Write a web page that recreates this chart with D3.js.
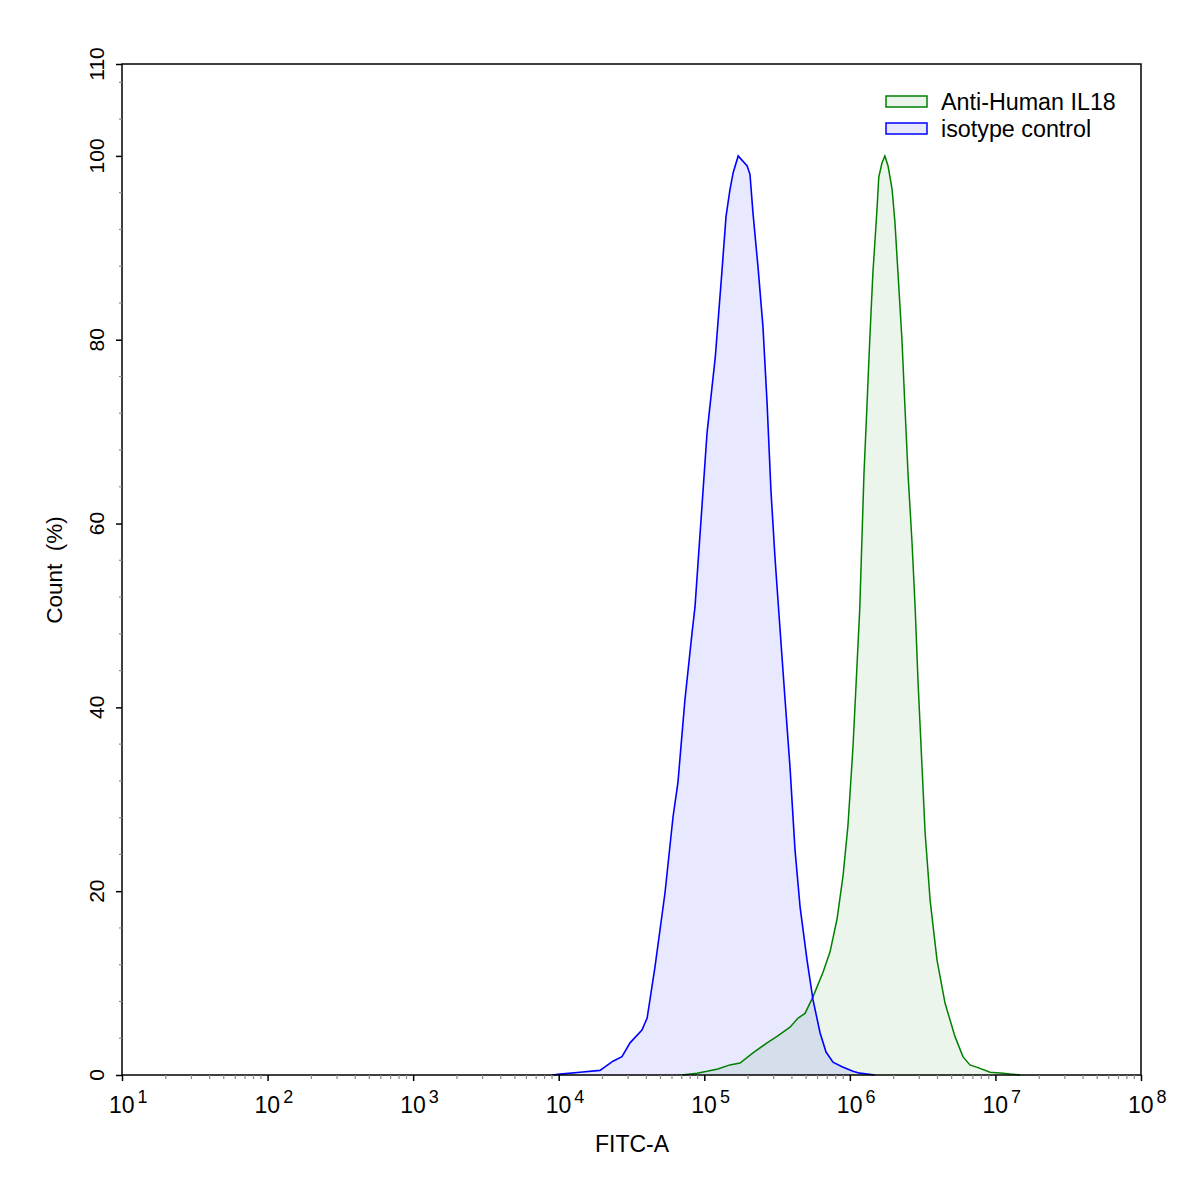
<!DOCTYPE html>
<html>
<head>
<meta charset="utf-8">
<script src="https://cdn.jsdelivr.net/npm/d3@7/dist/d3.min.js"></script>
<style>
  html, body { margin: 0; padding: 0; background: #fff; }
  svg { display: block; font-family: "Liberation Sans", Arial, sans-serif; }
</style>
</head>
<body>
<svg id="chart" width="1197" height="1193"></svg>
<script>
// ---- Data ----
const seriesNames = ["Anti-Human IL18", "isotype control"];

// isotype control (blue): FITC-A value, Count %
const isoX = [9.0e3, 1.02e4, 1.40e4, 1.92e4, 2.36e4, 2.72e4, 3.09e4, 3.73e4, 4.05e4, 4.58e4, 5.37e4,
  6.10e4, 6.59e4, 7.36e4, 8.24e4, 8.63e4, 1.045e5, 1.19e5, 1.32e5, 1.41e5, 1.50e5, 1.58e5, 1.71e5,
  1.97e5, 2.06e5, 2.16e5, 2.34e5, 2.53e5, 2.70e5, 2.87e5, 3.06e5, 3.21e5, 3.59e5, 3.88e5, 4.20e5,
  4.55e5, 5.08e5, 5.58e5, 6.24e5, 6.86e5, 7.66e5, 8.83e5, 1.05e6, 1.17e6, 1.48e6];
const isoY = [0, 0.1, 0.3, 0.5, 1.5, 2.0, 3.5, 4.9, 6.2, 11.7, 19.8,
  28.1, 31.8, 40.8, 48.1, 50.9, 69.9, 78.1, 87.3, 93.4, 96.3, 98.2, 100,
  98.9, 98.0, 93.8, 87.9, 81.4, 73.1, 63.6, 56.3, 51.6, 40.8, 33.5, 24.5,
  18.3, 12.5, 8.2, 4.6, 2.5, 1.4, 0.9, 0.4, 0.2, 0];

// Anti-Human IL18 (green)
const il18X = [7.0e4, 8.91e4, 1.045e5, 1.24e5, 1.50e5, 1.76e5, 2.16e5, 2.70e5, 3.16e5, 3.88e5, 4.41e5,
  4.92e5, 5.58e5, 6.55e5, 7.31e5, 8.17e5, 8.98e5, 9.70e5, 1.05e6, 1.12e6, 1.17e6, 1.25e6, 1.31e6,
  1.37e6, 1.44e6, 1.49e6, 1.54e6, 1.58e6, 1.66e6, 1.74e6, 1.83e6, 1.95e6, 2.04e6, 2.14e6, 2.28e6,
  2.39e6, 2.51e6, 2.67e6, 2.81e6, 2.94e6, 3.13e6, 3.29e6, 3.56e6, 3.97e6, 4.51e6, 5.27e6, 5.98e6,
  6.68e6, 7.59e6, 9.18e6, 1.13e7, 1.26e7, 1.48e7];
const il18Y = [0, 0.2, 0.4, 0.65, 1.1, 1.3, 2.4, 3.5, 4.2, 5.2, 6.2,
  6.7, 8.5, 11.2, 13.4, 17.0, 21.7, 27.1, 35.6, 44.6, 50.8, 65.4, 72.7,
  80.0, 87.3, 90.9, 94.5, 97.7, 99.2, 100, 98.9, 96.4, 92.8, 87.3, 80.0,
  72.7, 65.4, 58.1, 50.8, 42.8, 33.6, 26.3, 19.0, 12.5, 7.8, 4.2, 2.0,
  1.1, 0.8, 0.3, 0.2, 0.1, 0];

const xMajorExps = [1, 2, 3, 4, 5, 6, 7, 8];
const yMajorTicks = [0, 20, 40, 60, 80, 100, 110];
const yMinorTicks = [4, 8, 12, 16, 24, 28, 32, 36, 44, 48, 52, 56, 64, 68, 72, 76, 84, 88, 92, 96, 104, 108];
const xTitle = "FITC-A";
const yTitle = "Count  (%)";

// ---- Layout ----
const svg = d3.select("#chart");
const mLeft = 122, mRight = 1141, mTop = 64, mBottom = 1075;

const x = d3.scaleLog().domain([1e1, 1e8]).range([mLeft, mRight]);
const y = d3.scaleLinear().domain([0, 110]).range([mBottom, mTop]);

const isoData = isoX.map((v, i) => [v, isoY[i]]);
const il18Data = il18X.map((v, i) => [v, il18Y[i]]);

const area = d3.area().x(d => x(d[0])).y0(y(0)).y1(d => y(d[1]));
const line = d3.line().x(d => x(d[0])).y(d => y(d[1]));

// fills
svg.append("path").datum(isoData).attr("d", area)
  .attr("fill", "rgba(0,0,255,0.09)");
svg.append("path").datum(il18Data).attr("d", area)
  .attr("fill", "rgba(0,128,0,0.08)");
// outlines
svg.append("path").datum(il18Data).attr("d", line)
  .attr("fill", "none").attr("stroke", "#008000").attr("stroke-width", 1.5);
svg.append("path").datum(isoData).attr("d", line)
  .attr("fill", "none").attr("stroke", "#0000ff").attr("stroke-width", 1.6);

// frame
svg.append("rect").attr("x", mLeft).attr("y", mTop)
  .attr("width", mRight - mLeft).attr("height", mBottom - mTop)
  .attr("fill", "none").attr("stroke", "#000").attr("stroke-width", 1.5);

// x minor ticks
const xMinor = [];
for (let e = 1; e < 8; e++) for (let m = 2; m <= 9; m++) xMinor.push(m * Math.pow(10, e));
svg.append("g").selectAll("line").data(xMinor).join("line")
  .attr("x1", d => x(d)).attr("x2", d => x(d))
  .attr("y1", mBottom).attr("y2", mBottom + 4)
  .attr("stroke", "#888").attr("stroke-width", 1.2);

// x axis major ticks via d3 axis
const xAxis = d3.axisBottom(x)
  .tickValues(xMajorExps.map(e => Math.pow(10, e)))
  .tickSize(6).tickFormat("");
const gx = svg.append("g").attr("transform", `translate(0,${mBottom})`).call(xAxis);
gx.select(".domain").remove();
gx.selectAll(".tick line").attr("stroke", "#000").attr("stroke-width", 1.5);

// x labels with superscripts
svg.append("g").selectAll("text").data(xMajorExps).join("text")
  .attr("y", 1113).attr("font-size", 23).attr("fill", "#000")
  .each(function(d) {
    const t = d3.select(this);
    const cx = x(Math.pow(10, d));
    t.append("tspan").attr("x", cx - 13).text("10");
    t.append("tspan").attr("dx", 3).attr("dy", -10).attr("font-size", 18).text(d);
  });

// y minor ticks
svg.append("g").selectAll("line").data(yMinorTicks).join("line")
  .attr("x1", mLeft - 3).attr("x2", mLeft)
  .attr("y1", d => y(d)).attr("y2", d => y(d))
  .attr("stroke", "#888").attr("stroke-width", 1.2);

// y axis majors
const yAxis = d3.axisLeft(y).tickValues(yMajorTicks).tickSize(6).tickFormat("");
const gy = svg.append("g").attr("transform", `translate(${mLeft},0)`).call(yAxis);
gy.select(".domain").remove();
gy.selectAll(".tick line").attr("stroke", "#000").attr("stroke-width", 1.5);

// y labels rotated
svg.append("g").selectAll("text").data(yMajorTicks).join("text")
  .attr("transform", d => `translate(104,${y(d)}) rotate(-90)`)
  .attr("text-anchor", "middle")
  .attr("font-size", 21).attr("fill", "#000")
  .text(d => d);

// titles
svg.append("text").attr("x", 632).attr("y", 1152)
  .attr("text-anchor", "middle").attr("font-size", 23).text(xTitle);
svg.append("text").attr("transform", `translate(62,570) rotate(-90)`)
  .attr("text-anchor", "middle").attr("font-size", 22.5)
  .style("white-space", "pre").text(yTitle);

// legend
const legendColors = [
  { stroke: "#008000", fill: "#eaf4ea" },
  { stroke: "#0000ff", fill: "#e8e8fd" }
];
const lg = svg.append("g");
seriesNames.forEach((name, i) => {
  const yy = 96 + i * 27;
  lg.append("rect").attr("x", 886).attr("y", yy).attr("width", 41).attr("height", 11)
    .attr("fill", legendColors[i].fill).attr("stroke", legendColors[i].stroke).attr("stroke-width", 1.5);
  lg.append("text").attr("x", 941).attr("y", yy + 14).attr("font-size", 23.3).text(name);
});
</script>
</body>
</html>
